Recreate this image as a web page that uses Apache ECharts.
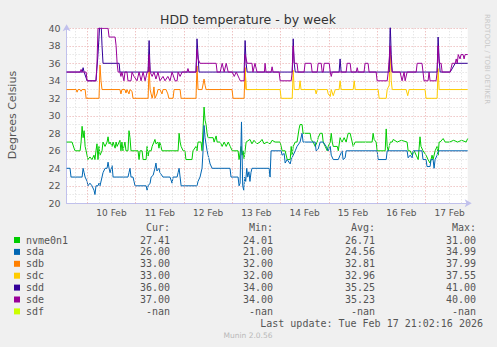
<!DOCTYPE html>
<html><head><meta charset="utf-8">
<script src="https://cdn.jsdelivr.net/npm/echarts@6/dist/echarts.min.js"></script>
<style>html,body{margin:0;padding:0;background:#f0f0f0}#c{width:497px;height:347px}</style>
</head><body><div id="c"></div>
<script>
// ---- data (time in hours from 10 Feb 00:00) ----
const chartTitle = 'HDD temperature - by week';
const yAxisName = 'Degrees Celsius';
const xTickHours = [12, 36, 60, 84, 108, 132, 156, 180];
const xTickLabels = ['10 Feb', '11 Feb', '12 Feb', '13 Feb', '14 Feb', '15 Feb', '16 Feb', '17 Feb'];
const seriesNames = ['nvme0n1', 'sda', 'sdb', 'sdc', 'sdd', 'sde', 'sdf'];
const curVals = ['27.41', '26.00', '33.00', '33.00', '36.00', '37.00', '-nan'];
const minVals = ['24.01', '21.00', '32.00', '32.00', '34.00', '34.00', '-nan'];
const avgVals = ['26.71', '24.56', '32.81', '32.96', '35.25', '35.23', '-nan'];
const maxVals = ['31.00', '34.99', '37.99', '37.55', '41.00', '40.00', '-nan'];
const lastUpdate = 'Last update: Tue Feb 17 21:02:16 2026';
const versionText = 'Munin 2.0.56';
const sideText = 'RRDTOOL / TOBI OETIKER';

const nvme0n1 = [[-10.3,27],[-7.6,27],[-6.6,26.3],[-6.1,26],[-3.6,26],[-3.1,27],[-2.6,28.8],[-2.1,27.5],[-1.6,28.3],[-1.1,26.5],[-0.6,26],[0.3,25],[1.3,25.3],[2.3,25],[3.3,25.5],[3.8,25],[4.3,26],[4.8,26.8],[5.3,25],[5.8,26.5],[6.3,25.5],[7.3,26],[7.8,27],[8.8,26.5],[9.8,27],[10.3,27.6],[10.8,26.8],[11.3,27],[12.3,26.5],[12.8,27],[13.8,26.3],[14.3,27],[14.8,26.5],[16.2,27.2],[16.7,26],[17.2,27],[17.7,26],[18.7,27],[19.2,26],[20.2,26],[20.7,28.3],[21.2,27.5],[21.7,26],[25.2,26],[25.7,25],[26.2,26],[27.2,26],[27.7,25],[29.2,25],[29.7,26.5],[30.2,25.4],[30.7,26],[31.7,26],[32.2,26.5],[33.1,27],[33.6,27.3],[34.1,26.8],[35.1,27],[35.6,26.3],[36.1,27],[36.6,26.5],[37.1,26],[45.1,26],[45.6,28],[46.1,27],[46.6,26.5],[47.6,26],[48.5,26],[49,25],[52,25],[52.5,26],[54,26.5],[54.5,26],[55,27],[56.5,27],[57,26],[57.5,28.5],[58,31],[58.5,29.5],[59,29],[59.5,28],[60,27.5],[62.5,27.5],[63,27],[64,27.7],[64.5,27],[66,27],[67,26.5],[68,27],[69,26.5],[70,27],[71,26.5],[72,26],[74.9,26],[75.4,25],[76.4,26.5],[76.9,25.5],[77.4,26],[77.9,25.1],[78.4,26],[78.9,27],[80.8,27.3],[81.8,26.8],[82.8,27.2],[84.3,26.8],[85.8,27],[86.8,27.3],[87.8,26.8],[89.3,27],[90.8,26.8],[91.8,27.2],[93.3,27],[95.8,27],[96.8,26],[98.3,26],[99.3,25],[100.8,25],[101.3,26.5],[101.8,25.5],[102.3,26.5],[103.3,27],[104.2,27],[105.2,28.5],[105.7,29],[106.7,29],[107.2,28],[110.7,28],[111.2,27.3],[112.2,27],[113.2,26.5],[114.2,27],[114.7,27.5],[115.7,28],[116.7,28],[117.2,27],[118.2,26.5],[119.2,26],[119.7,26.5],[120.7,27],[121.2,28],[121.7,27],[122.2,26.5],[124.2,26.5],[124.7,26],[125.6,27.5],[126.6,27],[127.6,27.5],[128.6,27],[129.6,28],[130.6,28],[131.6,27],[132.1,26.5],[133.1,27],[141.5,27],[142,28],[142.5,27.3],[143.5,27],[144,26],[148,26],[148.5,28.5],[149,26.5],[149.5,26],[150.5,27],[151.5,27],[152,27.3],[154,27],[156,27.2],[158.9,27],[159.4,26],[160.4,26],[161.4,25.5],[162.4,26],[163.4,25.5],[164.4,25],[165.3,27.6],[165.8,26.5],[166.8,26],[168.3,25.5],[169.3,25],[170.3,24.6],[171.3,25.5],[171.8,25],[172.8,26],[173.8,26.5],[174.3,25.5],[174.8,27],[175.3,27],[176.8,27.4],[177.8,27],[180,27],[182,27.2],[184,27],[186,27.2],[188.2,27],[189,27.4]];

const sda = [[-10.3,24],[-8.6,24],[-8.1,23],[-2.6,23],[-2.1,24],[-1.6,23.5],[-1.1,23],[-0.1,22.5],[0.3,22],[1.3,22.3],[2.3,22],[3.3,21.5],[3.8,21],[4.3,22],[5.3,22],[5.8,22.3],[6.3,22],[7.3,23],[7.8,23.5],[8.8,24],[9.8,24],[10.3,24.7],[10.8,24],[11.3,23.5],[12.3,24.3],[12.8,23],[20.2,23],[20.7,23.5],[21.2,24],[21.7,23],[22.7,23],[23.2,22.5],[23.7,22],[29.2,22],[29.7,21.5],[30.2,22],[31.2,22.3],[31.7,23],[32.7,23.2],[33.6,24],[34.1,24.6],[34.6,23.7],[35.6,24],[36.1,23.5],[37.6,23],[41.1,23],[42.1,22.3],[42.6,23],[44.6,23],[45.1,23.5],[45.6,24],[46.1,23],[46.6,22],[54.5,22],[55,22.5],[56,23],[57,24],[57.5,26],[58,28.9],[58.5,27.5],[59.5,26],[60,25.5],[61,24.5],[62,24],[70.9,24],[71.4,23],[74.9,23],[75.4,22],[75.9,22.3],[76.6,29.3],[77.2,22],[77.7,21.5],[78.2,23],[78.7,22.5],[79.2,24],[79.7,23],[80.3,23.6],[80.8,22.5],[81.3,23.5],[81.8,24],[83.3,24],[90.3,24],[90.8,23],[91.3,26],[96.3,26],[96.8,25.5],[97.8,25.7],[98.3,24.6],[99.3,25],[100.8,24.5],[101.3,25],[102.3,25.5],[103.3,26],[104.2,26.5],[105.7,27],[106.7,28],[107.2,27],[113.2,27],[113.7,26],[114.7,26.2],[115.7,27],[117.2,27],[118.7,26.5],[119.7,26],[120.7,26.5],[121.2,25.5],[122.2,25],[124.7,25],[125.6,25.5],[126.6,26],[127.1,25],[128.1,25.2],[128.6,26],[144,26],[144.5,25],[148.5,25],[149,26],[158.9,26],[159.4,25.2],[160.4,25.5],[161.4,25.2],[161.9,26],[166.3,26],[166.8,25],[168.3,25],[168.8,24.2],[170.3,24.2],[170.8,25],[171.8,25],[172.3,24],[172.8,25],[173.8,25.5],[174.3,26],[189,26]];

const sdb = [[-10.3,33],[-5.6,33],[-5.1,32.7],[-4.6,33],[-3.6,33],[-3.1,32.8],[-2.6,33],[-1.1,33],[-0.6,32],[5.8,32],[6.3,35.8],[6.8,34],[7.3,33],[16.2,33],[16.7,32.5],[17.2,33],[18.7,33],[19.2,32.6],[19.7,33],[20.7,32.5],[21.2,33],[22.2,32.8],[22.7,32],[30.2,32],[30.7,35.6],[31.2,33],[31.7,32.5],[32.2,32],[32.7,32.5],[33.1,33.3],[33.6,32],[34.6,32.5],[35.1,33],[36.1,33],[37.1,32.5],[37.6,33],[39.1,33],[40,32.5],[40.5,32],[42.6,32],[43.1,33],[46.1,33],[46.6,32],[54,32],[54.5,35.7],[55,33],[57,33],[58,34.2],[58.5,33.5],[59,33],[71.9,33],[72.4,32],[77.9,32],[78.4,35.5],[78.9,33],[80.8,33]];

const sdc = [[78.4,35.5],[78.9,33],[95.8,33],[96.3,32],[101.8,32],[102.3,35.2],[102.8,33],[105.2,33],[105.7,34],[106.2,33],[113.2,33],[113.7,32.5],[114.2,33],[119.2,33],[119.7,32.5],[120.7,32.2],[121.2,33],[122.2,32.3],[123.2,33],[125.1,33],[125.6,34],[126.1,33],[132.1,33],[132.6,34],[133.1,33],[144.5,33],[145,32],[148.5,32],[149,33],[150,33.5],[150.5,37.5],[151,34],[151.5,33],[158.4,33],[159.2,32.3],[159.9,33],[167.8,33],[168.3,32],[173.8,32],[174.3,35.4],[174.8,33],[189,33]];

const sdd = [[-10.3,35],[-2.6,35],[-2.1,35.5],[-1.6,35],[-0.1,34],[4.3,34],[5.3,37],[6.3,41],[6.8,41],[7.3,38],[7.8,36],[15.8,36],[16.2,35],[30.2,35],[30.7,38.6],[31.2,35],[54,35],[54.5,38.8],[55,37],[55.5,35],[77.9,35],[78.4,38.6],[78.9,36],[79.4,35],[101.8,35],[102.3,38.8],[102.8,36],[103.3,35],[125.1,35],[125.6,36.5],[126.1,35],[150,35],[150.5,40.5],[151,37],[151.5,35],[173.8,35],[174.3,39],[174.8,36.5],[175.3,35],[180.3,35],[182.8,36],[189,36]];

const sde = [[-10.3,35],[-3.6,35],[-3.1,35.3],[-2.6,35],[-0.6,35],[-0.1,34],[4.3,34],[4.8,36],[5.3,40],[10.3,40],[10.8,39],[13.8,39],[14.3,38],[14.8,36],[15.3,35],[16.2,35],[16.7,34.5],[17.2,35],[18.2,34],[18.7,35],[19.7,35],[20.2,34],[21.7,34],[22.2,35],[23.2,34.5],[24.7,34],[25.7,35],[26.7,34],[27.7,35],[28.7,34],[29.7,35],[30.2,35],[30.7,37],[31.2,35],[32.2,34.5],[33.1,35],[34.1,34.2],[35.1,35],[36.1,34],[37.6,34.5],[38.6,34],[40,34.5],[41.1,34],[42.1,35],[43.6,34],[44.6,34],[45.1,35],[46.1,34.5],[47.1,35],[49.5,35],[50,35.4],[50.5,35],[54,35],[54.5,37.6],[55,36.5],[56,36],[64,36],[64.5,35],[66,35],[67,36],[68,35],[69,36],[70,35],[72,35],[73,34.5],[74,35],[75.4,34.3],[76,34],[77.9,34],[78.4,37],[79.4,36],[81.8,36],[82.3,35],[83.3,36],[84.3,35],[88,35],[88.3,36],[88.8,35],[91.3,35],[91.8,35.6],[92.3,35],[95.3,35],[95.8,34],[101.3,34],[101.8,35],[102.3,38],[102.8,36],[104.2,36],[104.7,35],[107.7,35],[108.2,36],[111.2,36],[111.7,35],[114.2,35],[114.7,36],[116.2,36],[116.7,35],[117.2,35],[117.7,36],[120.2,36],[120.7,35],[121.2,34.5],[121.7,35],[128.6,35],[129.1,36],[130.6,36],[131.1,35],[133.6,35],[134.1,35.5],[134.6,35],[137.5,35],[138,36],[139.5,36],[140,35],[143.5,35],[144,34],[149,34],[149.5,35],[150.5,38],[151,36],[151.5,35],[155.4,35],[156.4,34],[157.4,35],[157.9,34],[158.9,35],[163.4,35],[163.9,36],[166.3,36],[166.8,35],[167.3,34],[169.3,34],[169.8,35],[170.3,34],[173.3,34],[173.8,35],[174.3,38],[174.8,36],[175.8,36],[176.3,35],[180.3,35],[181.3,36],[182.8,36],[183.3,36.5],[183.8,36],[184.3,37],[185.2,36.5],[185.7,37],[186.7,37],[187.2,36.5],[187.7,37],[189,37]];

const sdf = [];

// ---- style ----
const colors = ['#00CC00', '#0066B3', '#FF8000', '#FFCC00', '#330099', '#990099', '#CCFF00'];
const seriesData = [nvme0n1, sda, sdb, sdc, sdd, sde, sdf];
const xMin = -10.3, xMax = 189;
const redGrid = '#e8a8a8', grayGrid = '#dcdcdc';

const gridLineMarks = [];
for (let h = -6; h < xMax; h += 6) {
  const major = (h % 24 === 0);
  gridLineMarks.push({ xAxis: h, lineStyle: { color: major ? redGrid : grayGrid, type: [1, 2], width: 1 } });
}

const mono = 'DejaVu Sans Mono';
const graphics = [];
graphics.push({ type: 'text', x: 248, y: 19, style: { text: chartTitle, font: '12.5px "DejaVu Sans"', fill: '#333', align: 'center', verticalAlign: 'middle', textAlign: 'center', textVerticalAlign: 'middle' } });
graphics.push({ type: 'text', x: 12, y: 115, rotation: Math.PI / 2, style: { text: yAxisName, font: '11px "DejaVu Sans"', fill: '#555', align: 'center', verticalAlign: 'middle', textAlign: 'center', textVerticalAlign: 'middle' } });
graphics.push({ type: 'text', x: 487, y: 14, rotation: -Math.PI / 2, style: { text: sideText, font: '7px "DejaVu Sans"', fill: '#c8c8c8', align: 'left', verticalAlign: 'middle', textAlign: 'left', textVerticalAlign: 'middle' } });

const colRight = [170, 273, 375, 476];
const headers = ['Cur:', 'Min:', 'Avg:', 'Max:'];
const headerY = 227.5, rowY0 = 240, rowStep = 11.9;
headers.forEach((t, k) => graphics.push({ type: 'text', x: colRight[k], y: headerY, style: { text: t, font: '10px "' + mono + '"', fill: '#555', align: 'right', verticalAlign: 'middle', textAlign: 'right', textVerticalAlign: 'middle' } }));
seriesNames.forEach((n, i) => {
  const y = rowY0 + i * rowStep;
  graphics.push({ type: 'rect', shape: { x: 14, y: y - 3, width: 6, height: 6 }, style: { fill: colors[i] } });
  graphics.push({ type: 'text', x: 26, y: y, style: { text: n, font: '10px "' + mono + '"', fill: '#555', align: 'left', verticalAlign: 'middle', textAlign: 'left', textVerticalAlign: 'middle' } });
  [curVals, minVals, avgVals, maxVals].forEach((arr, k) => graphics.push({ type: 'text', x: colRight[k], y: y, style: { text: arr[i], font: '10px "' + mono + '"', fill: '#555', align: 'right', verticalAlign: 'middle', textAlign: 'right', textVerticalAlign: 'middle' } }));
});
graphics.push({ type: 'text', x: 483, y: 323.5, style: { text: lastUpdate, font: '10px "' + mono + '"', fill: '#555', align: 'right', verticalAlign: 'middle', textAlign: 'right', textVerticalAlign: 'middle' } });
graphics.push({ type: 'text', x: 248, y: 335, style: { text: versionText, font: '7.5px "DejaVu Sans"', fill: '#b8b8b8', align: 'center', verticalAlign: 'middle', textAlign: 'center', textVerticalAlign: 'middle' } });

const series = [{
  type: 'line', data: [], silent: true, z: 1,
  markLine: { silent: true, symbol: ['none', 'none'], label: { show: false }, animation: false, data: gridLineMarks }
}];
seriesNames.forEach((n, i) => series.push({
  name: n, type: 'line', data: seriesData[i], showSymbol: false, symbol: 'none', z: 3 + i,
  lineStyle: { width: 1, color: colors[i] }, itemStyle: { color: colors[i] }, clip: true
}));

const chart = echarts.init(document.getElementById('c'), null, { renderer: 'svg' });
chart.setOption({
  animation: false,
  backgroundColor: '#f0f0f0',
  grid: { left: 66.6, top: 28.3, width: 401.1, height: 175, show: true, backgroundColor: '#ffffff', borderWidth: 0, containLabel: false, outerBoundsMode: 'none' },
  xAxis: {
    type: 'value', min: xMin, max: xMax,
    axisLine: { show: true, onZero: false, lineStyle: { color: '#c0c0ec', width: 1 }, symbol: ['none', 'arrow'], symbolSize: [6, 7], symbolOffset: [0, 4] },
    axisTick: { show: false }, splitLine: { show: false },
    axisLabel: { customValues: xTickHours, formatter: v => xTickLabels[xTickHours.indexOf(v)] || '', fontSize: 9, color: '#555', fontFamily: 'DejaVu Sans', margin: 5 }
  },
  yAxis: {
    type: 'value', min: 20, max: 40, interval: 1,
    axisLine: { show: true, onZero: false, lineStyle: { color: '#c0c0ec', width: 1 }, symbol: ['none', 'arrow'], symbolSize: [6, 7], symbolOffset: [0, 4] },
    axisTick: { show: false },
    splitLine: { show: true, lineStyle: { color: [redGrid, grayGrid], type: [1, 2], width: 1 } },
    axisLabel: { formatter: v => (v % 2 === 0 ? String(v) : ''), fontSize: 9.5, color: '#555', fontFamily: 'DejaVu Sans', margin: 6 }
  },
  series: series,
  graphic: { elements: graphics }
});
</script></body></html>
